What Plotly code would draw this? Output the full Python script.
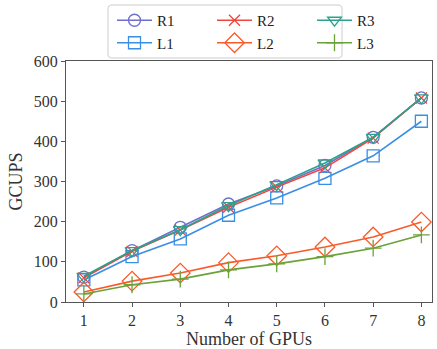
import plotly.graph_objects as go

gpus = [1, 2, 3, 4, 5, 6, 7, 8]
R1 = [62, 128, 186, 244, 289, 340, 410, 508]
R2 = [60, 126, 179, 236, 286, 334, 408, 508]
R3 = [64, 128, 180, 240, 292, 346, 410, 508]
L1 = [55, 113, 157, 216, 259, 308, 364, 450]
L2 = [25, 52, 72, 98, 115, 137, 162, 199]
L3 = [20, 43, 57, 80, 95, 113, 134, 167]

series = [
    ("R1", R1, "#6f6fce", "circle-open", 12, "legend"),
    ("L1", L1, "#3a8ee6", "square-open", 12, "legend"),
    ("R2", R2, "#f0463f", "x-thin-open", 11, "legend2"),
    ("L2", L2, "#fa5a2a", "diamond-open", 15, "legend2"),
    ("R3", R3, "#2ca18b", "triangle-down-open", 12, "legend3"),
    ("L3", L3, "#6aa23a", "cross-thin-open", 12, "legend3"),
]

FONT = "Liberation Serif"
fig = go.Figure()
for name, vals, col, sym, sz, lg in series:
    fig.add_trace(go.Scatter(
        x=gpus, y=vals, name=name, mode="lines+markers",
        line=dict(color=col, width=1.6),
        marker=dict(symbol=sym, size=sz, color=col, line=dict(color=col, width=1.3)),
        legend=lg,
    ))

W, H = 437, 349
L, R, T, B = 66, 5, 61, 47
pw, ph = W - L - R, H - T - B

def px2paper(x, y):
    return (x - L) / pw, (H - B - y) / ph

# rounded legend frame
bx0, by0, bx1, by1, rr = 108, 5, 342, 58, 4
def P(x, y):
    a, b = px2paper(x, y)
    return f"{a:.5f},{b:.5f}"
frame = (f"M {P(bx0 + rr, by0)} L {P(bx1 - rr, by0)} Q {P(bx1, by0)} {P(bx1, by0 + rr)} "
         f"L {P(bx1, by1 - rr)} Q {P(bx1, by1)} {P(bx1 - rr, by1)} "
         f"L {P(bx0 + rr, by1)} Q {P(bx0, by1)} {P(bx0, by1 - rr)} "
         f"L {P(bx0, by0 + rr)} Q {P(bx0, by0)} {P(bx0 + rr, by0)} Z")

legend_common = dict(
    orientation="v", xanchor="left", yanchor="top", bgcolor="rgba(0,0,0,0)",
    font=dict(family=FONT, size=15, color="#222"),
    itemwidth=35, tracegroupgap=0,
)
ly = px2paper(0, 4)[1]

fig.update_layout(
    width=W, height=H,
    margin=dict(l=L, r=R, t=T, b=B, autoexpand=False),
    paper_bgcolor="white", plot_bgcolor="white",
    font=dict(family=FONT, size=15, color="#333"),
    legend=dict(x=px2paper(112, 0)[0], y=ly, **legend_common),
    legend2=dict(x=px2paper(212, 0)[0], y=ly, **legend_common),
    legend3=dict(x=px2paper(312, 0)[0], y=ly, **legend_common),
    shapes=[dict(type="path", xref="paper", yref="paper", path=frame,
                 line=dict(color="#cccccc", width=1), fillcolor="rgba(0,0,0,0)")],
    xaxis=dict(
        range=[0.63, 8.22], tickvals=gpus, ticks="outside", ticklen=4,
        tickcolor="#555", showline=True, linecolor="#555", linewidth=1.3,
        mirror=True, showgrid=False, zeroline=False,
        title=dict(text="Number of GPUs", font=dict(size=18, color="#333"), standoff=4),
        tickfont=dict(size=16, color="#333"),
    ),
    yaxis=dict(
        range=[0, 600], tickvals=[0, 100, 200, 300, 400, 500, 600], ticks="outside",
        ticklen=4, tickcolor="#555", showline=True, linecolor="#555", linewidth=1.3,
        mirror=True, showgrid=False, zeroline=False,
        title=dict(text="GCUPS", font=dict(size=18, color="#333"), standoff=6),
        tickfont=dict(size=16, color="#333"),
    ),
)

fig.write_html("out.html", config={"displayModeBar": False},
               post_script="document.body.style.margin='0';document.body.style.overflow='hidden';")
